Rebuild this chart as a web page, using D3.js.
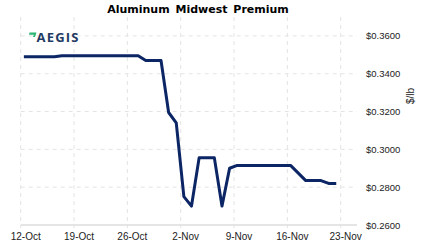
<!DOCTYPE html>
<meta charset="UTF-8">
<style>
    body { margin: 0; background: #fff; }
    svg text { font-family: "Liberation Sans", Arial, sans-serif; }
    .grid line { stroke: #e4e4e4; stroke-dasharray: 4,4; }
    .line { fill: none; stroke: #0b2565; stroke-width: 3px; stroke-linejoin: round; }
</style>
<body>
<div id="chart"></div>
<script src="https://cdnjs.cloudflare.com/ajax/libs/d3/7.8.5/d3.min.js"></script>
<script>

// price points (date, $/lb)
var dates = ["12-Oct", "16-Oct", "17-Oct", "27-Oct", "28-Oct", "30-Oct", "31-Oct",
             "1-Nov", "2-Nov", "3-Nov", "4-Nov", "6-Nov", "7-Nov", "8-Nov", "9-Nov",
             "16-Nov", "18-Nov", "20-Nov", "21-Nov", "22-Nov"];
var prices = [0.3490, 0.3490, 0.3495, 0.3495, 0.3470, 0.3470, 0.3195,
              0.3140, 0.2750, 0.2700, 0.2955, 0.2955, 0.2700, 0.2900, 0.2915,
              0.2915, 0.2835, 0.2835, 0.2820, 0.2820];

var xTicks = ["12-Oct", "19-Oct", "26-Oct", "2-Nov", "9-Nov", "16-Nov", "23-Nov"];
var yTicks = [0.26, 0.28, 0.30, 0.32, 0.34, 0.36];

var parseDate = function(s) { return d3.timeParse("%d-%b-%Y")(s + "-2020"); };
var fmtPrice = function(v) { return "$" + v.toFixed(4); };

var data = dates.map(function(d, i) { return {date: parseDate(d), price: prices[i]}; });

var width = 423, height = 251;
var plotLeft = 20.7, plotRight = 357, plotTop = 17, plotBottom = 225;

var x = d3.scaleTime()
    .domain([parseDate("12-Oct"), parseDate("23-Nov")])
    .range([plotLeft, 340.7]);
var y = d3.scaleLinear().domain([0.26, 0.37]).range([plotBottom, plotTop]);

var svg = d3.select("#chart").append("svg")
    .attr("width", width)
    .attr("height", height);

// title
svg.append("text")
    .attr("x", 198).attr("y", 13)
    .attr("text-anchor", "middle")
    .style("font-family", "'DejaVu Sans', Verdana, sans-serif")
    .style("font-weight", "bold")
    .style("font-size", "11px")
    .style("word-spacing", "2px")
    .text("Aluminum Midwest Premium");

// grid
var grid = svg.append("g").attr("class", "grid");
grid.selectAll(".v").data(xTicks).enter().append("line")
    .attr("x1", function(d) { return x(parseDate(d)); })
    .attr("x2", function(d) { return x(parseDate(d)); })
    .attr("y1", plotTop).attr("y2", plotBottom + 3);
grid.selectAll(".h").data(yTicks.slice(1)).enter().append("line")
    .attr("x1", plotLeft).attr("x2", plotRight)
    .attr("y1", function(d) { return y(d); })
    .attr("y2", function(d) { return y(d); });

// x axis line
svg.append("line")
    .attr("x1", plotLeft).attr("x2", plotRight)
    .attr("y1", plotBottom).attr("y2", plotBottom)
    .style("stroke", "#dcdcdc").style("stroke-width", 1.5);

// x labels
svg.selectAll(".xl").data(xTicks).enter().append("text")
    .attr("x", function(d) { return x(parseDate(d)) + 5; })
    .attr("y", 240)
    .attr("text-anchor", "middle")
    .style("font-size", "10px")
    .style("fill", "#222")
    .text(function(d) { return d; });

// y labels
svg.selectAll(".yl").data(yTicks).enter().append("text")
    .attr("x", 366)
    .attr("y", function(d) { return y(d) + 3.5; })
    .style("font-size", "9.5px")
    .style("fill", "#222")
    .text(fmtPrice);

svg.append("text")
    .attr("transform", "translate(414,96) rotate(-90)")
    .attr("text-anchor", "middle")
    .style("font-size", "10px")
    .style("fill", "#222")
    .text("$/lb");

// logo
var logo = svg.append("g");
logo.append("path")
    .attr("d", "M29.5,32.5 L36.5,32.5 L35,37 L33,37 L33.8,34.7 L29,34.7 Z")
    .style("fill", "#2bb673");
logo.append("text")
    .attr("x", 36.5).attr("y", 42)
    .style("font-family", "'Open Sans', sans-serif")
    .style("font-weight", "700")
    .style("font-size", "13px")
    .style("letter-spacing", "1.2px")
    .style("fill", "#1f3a63")
    .text("AEGIS");

// price line (daily points sit a little after midnight)
var line = d3.line()
    .x(function(d) { return x(d3.timeHour.offset(d.date, 10)); })
    .y(function(d) { return y(d.price); });

svg.append("path")
    .datum(data)
    .attr("class", "line")
    .attr("d", line);

</script>
</body>
